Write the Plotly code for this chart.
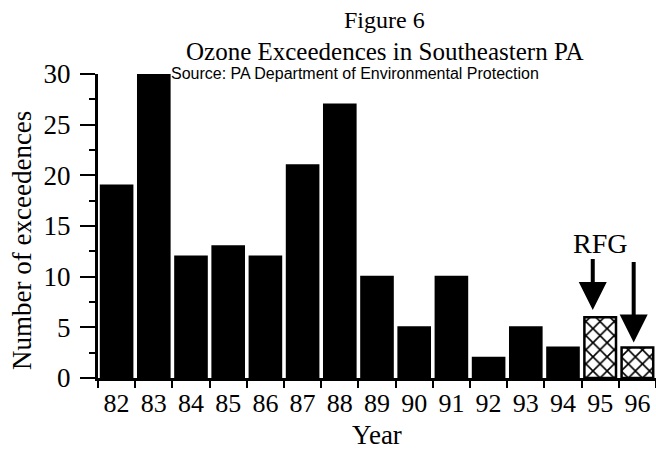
import plotly.graph_objects as go

years = ["82", "83", "84", "85", "86", "87", "88", "89", "90", "91", "92", "93", "94", "95", "96"]
exceedences = [19, 30, 12, 13, 12, 21, 27, 10, 5, 10, 2, 5, 3, 6, 3]
rfg_years = ["95", "96"]

serif = "Liberation Serif, Times New Roman, serif"

pre_x = [y for y in years if y not in rfg_years]
pre_y = [v for y, v in zip(years, exceedences) if y not in rfg_years]
rfg_y = [v for y, v in zip(years, exceedences) if y in rfg_years]

fig = go.Figure()
fig.add_trace(
    go.Bar(
        x=pre_x,
        y=pre_y,
        marker=dict(color="black", line=dict(color="black", width=2)),
        showlegend=False,
    )
)
fig.add_trace(
    go.Bar(
        x=rfg_years,
        y=rfg_y,
        marker=dict(
            color="white",
            line=dict(color="black", width=2.5),
            pattern=dict(shape="x", fgcolor="black", bgcolor="white", size=10, solidity=0.3),
        ),
        showlegend=False,
    )
)

# arrows pointing at the RFG years
arrows = [dict(x=12.8, tip=6.7, tail=11.9), dict(x=13.9, tip=3.5, tail=11.6)]
annotations = []
for a in arrows:
    annotations.append(
        dict(
            x=a["x"], y=a["tip"], ax=a["x"], ay=a["tail"],
            xref="x", yref="y", axref="x", ayref="y",
            text="", showarrow=True, arrowhead=2, arrowsize=1.4,
            arrowwidth=4, arrowcolor="black",
        )
    )

annotations.extend(
    [
        dict(x=13.0, y=13.3, xref="x", yref="y", text="RFG", showarrow=False,
             xanchor="center", yanchor="middle",
             font=dict(family=serif, size=28, color="black")),
        dict(x=0.514, y=1.178, xref="paper", yref="paper", text="Figure 6", showarrow=False,
             xanchor="center", yanchor="middle",
             font=dict(family=serif, size=24, color="black")),
        dict(x=0.514, y=1.075, xref="paper", yref="paper",
             text="Ozone Exceedences in Southeastern PA", showarrow=False,
             xanchor="center", yanchor="middle",
             font=dict(family=serif, size=25, color="black")),
        dict(x=0.46, y=1.003, xref="paper", yref="paper",
             text="Source: PA Department of Environmental Protection", showarrow=False,
             xanchor="center", yanchor="middle",
             font=dict(family="Liberation Sans, Arial, sans-serif", size=16, color="black")),
        dict(x=-0.136, y=0.451, xref="paper", yref="paper",
             text="Number of exceedences", showarrow=False, textangle=-90,
             xanchor="center", yanchor="middle",
             font=dict(family=serif, size=27, color="black")),
    ]
)

fig.update_xaxes(
    type="category",
    categoryorder="array",
    categoryarray=years,
    range=[-0.5, 14.5],
    tickson="boundaries",
    ticks="outside",
    ticklen=7,
    tickwidth=2,
    tickcolor="black",
    showline=True,
    linewidth=3,
    linecolor="black",
    showgrid=False,
    automargin=False,
    tickfont=dict(family=serif, size=26, color="black"),
    title=dict(text="Year", font=dict(family=serif, size=27, color="black"), standoff=8),
)
fig.update_yaxes(
    range=[0, 30],
    tickvals=[0, 5, 10, 15, 20, 25, 30],
    ticks="outside",
    ticklen=15,
    tickwidth=2,
    tickcolor="black",
    ticklabelstandoff=4,
    minor=dict(tickvals=[2.5, 7.5, 12.5, 17.5, 22.5, 27.5], ticks="outside", ticklen=6,
               tickwidth=2, tickcolor="black", showgrid=False),
    showline=True,
    linewidth=3,
    linecolor="black",
    showgrid=False,
    zeroline=False,
    automargin=False,
    tickfont=dict(family=serif, size=27, color="black"),
)

fig.update_layout(
    width=656,
    height=454,
    margin=dict(l=98, r=0, t=74, b=76, pad=0),
    paper_bgcolor="white",
    plot_bgcolor="white",
    barmode="overlay",
    bargap=0.15,
    annotations=annotations,
    template="none",
)

# drop the default page margin so the figure sits at the window's corner
fig.write_html(
    "out.html",
    config={"displayModeBar": False},
    post_script="document.body.style.margin = '0';",
)
